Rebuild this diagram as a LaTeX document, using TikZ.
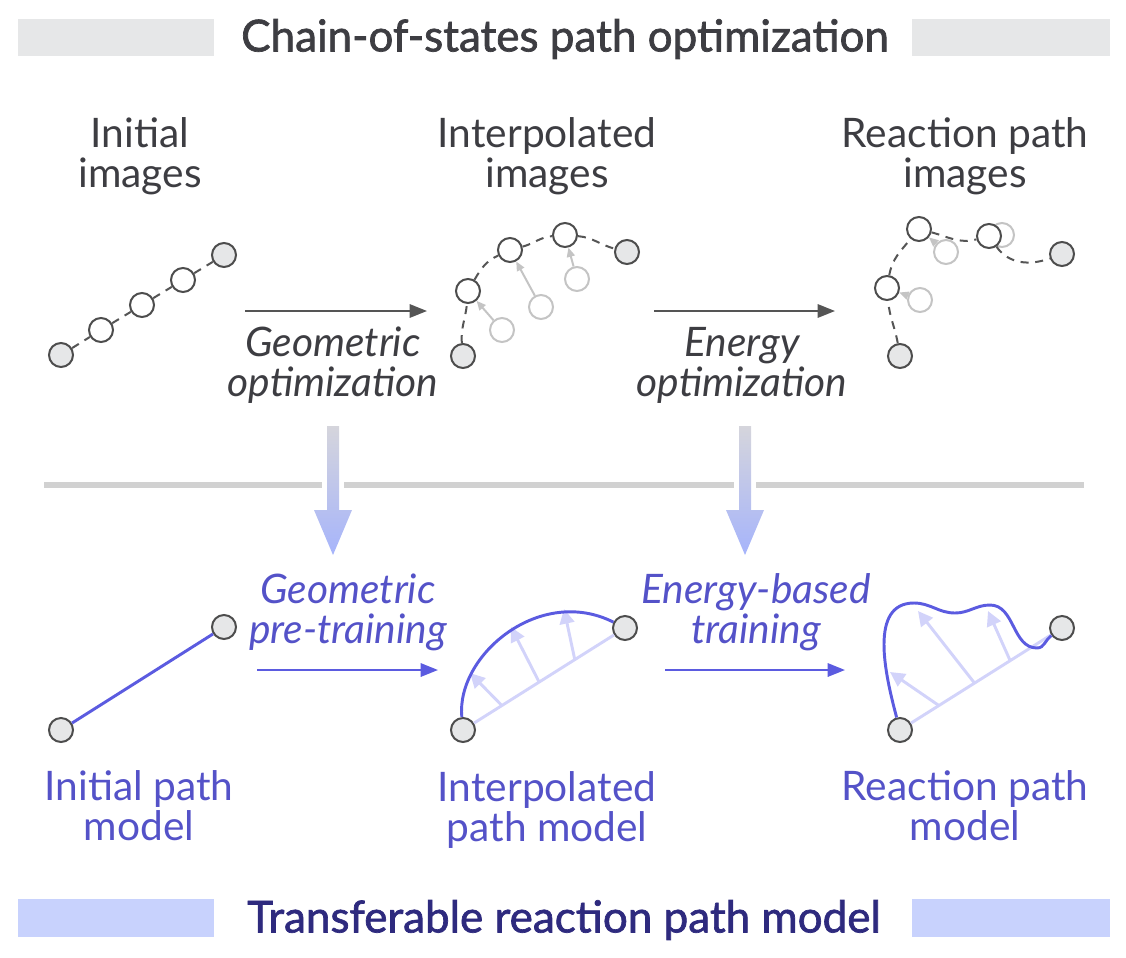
\documentclass[tikz,border=0pt]{standalone}
\usepackage{fontspec}
\setmainfont{Lato}
\newfontfamily\ttlfont{Lato}[FakeBold=1.6]
\usetikzlibrary{arrows.meta,calc}

\definecolor{inkgray}{HTML}{3D3D42}
\definecolor{linegray}{HTML}{555555}
\definecolor{ringgray}{HTML}{4D4D4D}
\definecolor{endfill}{HTML}{E6E7E8}
\definecolor{ghostgray}{HTML}{C4C4C4}
\definecolor{pathblue}{HTML}{5B5BE0}
\definecolor{textblue}{HTML}{5452C8}
\definecolor{liftblue}{HTML}{D2D3FA}
\definecolor{navy}{HTML}{2E2A7E}
\definecolor{barblue}{HTML}{C8D2FD}
\definecolor{rulegray}{HTML}{D1D1D1}
\definecolor{shaftgray}{HTML}{D5D5DC}
\definecolor{headblue}{HTML}{A6B4FB}

\begin{document}
\begin{tikzpicture}[x=0.75pt, y=-0.75pt,
	endpt/.style={circle, draw=ringgray, fill=endfill, line width=1.5pt, minimum size=18pt, inner sep=0pt},
	imgdot/.style={endpt, fill=white},
	ghost/.style={endpt, draw=ghostgray, fill=white},
	chain/.style={draw=linegray, line width=1.5pt, dash pattern=on 6pt off 5pt},
	nudge/.style={draw=ghostgray, line width=1.5pt, -{Triangle[length=7pt,width=6pt]}},
	optarrow/.style={draw=linegray, line width=1.6pt, -{Triangle[length=13pt,width=10pt]}},
	trainarrow/.style={optarrow, draw=pathblue},
	pathline/.style={draw=pathblue, line width=2.2pt},
	lift/.style={draw=liftblue, line width=2.2pt, -{Triangle[length=11pt,width=11pt]}},
	hdtext/.style={font=\fontsize{30.5}{30}\selectfont, text=inkgray, align=center, inner sep=0pt},
	ttltext/.style={hdtext, font=\fontsize{33}{33}\selectfont\ttlfont},
	how/.style={hdtext, font=\fontsize{30.5}{30}\selectfont\itshape},
	bluehd/.style={hdtext, text=textblue},
	bluehow/.style={how, text=textblue}]
	\useasboundingbox (0,0) rectangle (1126,957);

	% Titelbalken
	\fill[endfill] (18,19) rectangle (214,56);
	\fill[endfill] (912,19) rectangle (1110,56);
	\node[ttltext] (chainttl) at (565,39) {Chain-of-states path optimization};
	\fill[barblue] (18,899) rectangle (214,937);
	\fill[barblue] (912,899) rectangle (1110,937);
	\node[ttltext, text=navy] (modelttl) at (564,920) {Transferable reaction path model};

	% Trennlinie und Pfeile nach unten
	\draw[rulegray, line width=4pt] (44,485) -- (1084,485);
	\foreach \x in {333,745} {
		\fill[white] (\x-11,477) rectangle (\x+11,493);
		\shade[top color=shaftgray, bottom color=headblue] (\x-6,426) -- (\x+6,426) -- (\x+6,510) -- (\x+19,510)
			-- (\x,555) -- (\x-19,510) -- (\x-6,510) -- cycle;
	}

	% oben
	\node[hdtext] (hdinit) at (140,156) {Initial\\images};
	\node[hdtext] (hdinterp) at (547,156) {Interpolated\\images};
	\node[hdtext] (hdreact) at (965,156) {Reaction path\\images};

	\node[endpt] (ia1) at (61,355) {};
	\node[imgdot] (ia2) at (101,330) {};
	\node[imgdot] (ia3) at (142,305) {};
	\node[imgdot] (ia4) at (183,280) {};
	\node[endpt] (ia5) at (224,255) {};
	\draw[chain] (ia1) -- (ia2) -- (ia3) -- (ia4) -- (ia5);

	\coordinate (go1) at (245,311);
	\coordinate (go2) at (427,311);
	\draw[optarrow] (go1) -- (go2);
	\node[how] (geoopt) at (333,365) {Geometric\\optimization};

	\node[ghost] (mg1) at (502,330) {};
	\node[ghost] (mg2) at (541,307) {};
	\node[ghost] (mg3) at (577,279) {};
	\node[endpt] (mb1) at (463,356) {};
	\node[imgdot] (mb2) at (468,291) {};
	\node[imgdot] (mb3) at (510,250) {};
	\node[imgdot] (mb4) at (565,235) {};
	\node[endpt] (mb5) at (627,252) {};
	\draw[nudge] (mg1) -- (mb2);
	\draw[nudge] (mg2) -- (mb3);
	\draw[nudge] (mg3) -- (mb4);
	\draw[chain] (mb1) to[out=95,in=-95] (mb2) to[out=60,in=205] (mb3) to[out=15,in=185] (mb4) to[out=-5,in=165] (mb5);

	\coordinate (eo1) at (654,311);
	\coordinate (eo2) at (835,311);
	\draw[optarrow] (eo1) -- (eo2);
	\node[how] (enopt) at (742,365) {Energy\\optimization};

	\node[ghost] (rg1) at (920,300) {};
	\node[ghost] (rg2) at (946,252) {};
	\node[ghost] (rg3) at (1002,235) {};
	\node[endpt] (rb1) at (900,356) {};
	\node[imgdot] (rb2) at (887,288) {};
	\node[imgdot] (rb3) at (919,229) {};
	\node[imgdot] (rb4) at (989,236) {};
	\node[endpt] (rb5) at (1062,254) {};
	\draw[nudge] (rg1) -- (rb2);
	\draw[nudge] (rg2) -- (rb3);
	\draw[chain] (rb1) to[out=100,in=-85] (rb2) to[out=80,in=230] (rb3) to[out=-15,in=195] (rb4) to[out=-55,in=200] (rb5);

	% unten
	\node[endpt] (pa1) at (61,730) {};
	\node[endpt] (pa2) at (224,627) {};
	\draw[pathline] (pa1) -- (pa2);

	\coordinate (gt1) at (257,670);
	\coordinate (gt2) at (438,670);
	\draw[trainarrow] (gt1) -- (gt2);
	\node[bluehow] (geotrain) at (348,612) {Geometric\\pre-training};

	\node[endpt] (pb1) at (463,730) {};
	\node[endpt] (pb2) at (625,628) {};
	\coordinate (bt1) at (470,673);
	\coordinate (bt2) at (511,627);
	\coordinate (bt3) at (564,609);
	\draw[liftblue, line width=2.2pt] (pb1) -- (pb2);
	\draw[lift] ($(pb1)!.24!(pb2)$) -- (bt1);
	\draw[lift] ($(pb1)!.47!(pb2)$) -- (bt2);
	\draw[lift] ($(pb1)!.69!(pb2)$) -- (bt3);
	\draw[pathline] (pb1) .. controls (456,655) and (540,585) .. (pb2);

	\coordinate (et1) at (665,670);
	\coordinate (et2) at (845,670);
	\draw[trainarrow] (et1) -- (et2);
	\node[bluehow] (entrain) at (756,612) {Energy-based\\training};

	\node[endpt] (pc1) at (900,730) {};
	\node[endpt] (pc2) at (1062,628) {};
	\coordinate (ct1) at (890,672);
	\coordinate (ct2) at (918,611);
	\coordinate (ct3) at (988,611);
	\coordinate (wv1) at (914,603);
	\coordinate (wv2) at (955,613);
	\coordinate (wv3) at (990,605);
	\coordinate (wv4) at (1037,648);
	\draw[liftblue, line width=2.2pt] (pc1) -- (pc2);
	\draw[lift] ($(pc1)!.24!(pc2)$) -- (ct1);
	\draw[lift] ($(pc1)!.46!(pc2)$) -- (ct2);
	\draw[lift] ($(pc1)!.68!(pc2)$) -- (ct3);
	\draw[pathline] (pc1) to[out=105,in=180] (wv1) to[out=0,in=180] (wv2) to[out=0,in=180] (wv3)
		to[out=0,in=180] (wv4) to[out=0,in=215] (pc2);

	\node[bluehd] (lbinit) at (139,806) {Initial path\\model};
	\node[bluehd] (lbinterp) at (547,810) {Interpolated\\path model};
	\node[bluehd] (lbreact) at (965,806) {Reaction path\\model};
\end{tikzpicture}
\end{document}
